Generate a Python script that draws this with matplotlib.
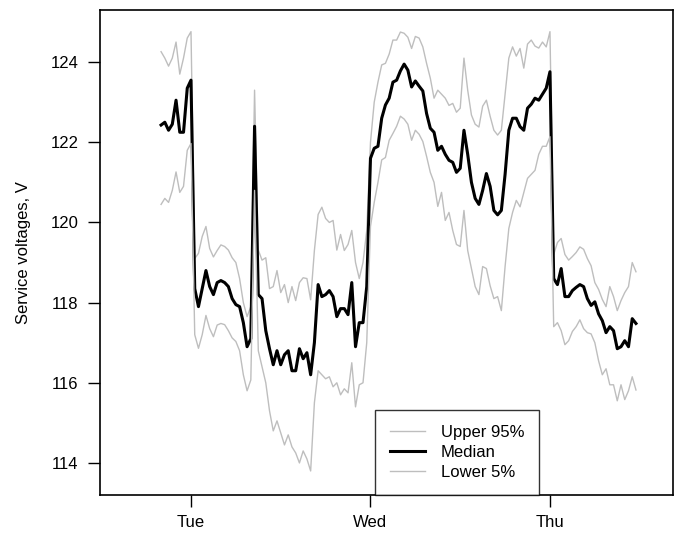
import numpy as np
import matplotlib
matplotlib.use("Agg")
import matplotlib.pyplot as plt

plt.rcParams['font.family'] = ['Liberation Sans', 'DejaVu Sans']

# time axis: hours relative to Tuesday 00:00, half-hour samples
t_start = -4.0
t_step = 0.5

median = [
    122.43, 122.5, 122.3, 122.45, 123.05, 122.25, 122.25, 123.35, 123.55,
    118.35, 117.9, 118.35, 118.8, 118.4, 118.2, 118.5, 118.55, 118.5, 118.4,
    118.1, 117.95, 117.9, 117.5, 116.9, 117.1, 122.4, 118.2, 118.1, 117.3,
    116.85, 116.45, 116.8, 116.45, 116.7, 116.8, 116.3, 116.3, 116.85, 116.6,
    116.75, 116.2, 117.0, 118.45, 118.15, 118.2, 118.3, 118.15, 117.65, 117.85,
    117.85, 117.7, 118.5, 116.9, 117.5, 117.5, 118.4,
    121.6, 121.85, 121.9, 122.6, 122.93, 123.1, 123.5, 123.55, 123.78, 123.95,
    123.8, 123.38, 123.53, 123.4, 123.28, 122.72, 122.35, 122.25, 121.8, 121.9,
    121.7, 121.55, 121.5, 121.25, 121.35, 122.3, 121.7, 121.0, 120.6, 120.45,
    120.8, 121.22, 120.9, 120.3, 120.19, 120.3, 121.2, 122.3, 122.6, 122.6,
    122.39, 122.3, 122.85, 122.95, 123.1, 123.05, 123.2, 123.35, 123.76,
    118.6, 118.45, 118.85, 118.15, 118.15, 118.3, 118.38, 118.45, 118.4, 118.1,
    117.93, 118.02, 117.72, 117.55, 117.25, 117.4, 117.3, 116.85, 116.9, 117.05,
    116.9, 117.6, 117.48,
]

upper95 = [
    124.26, 124.1, 123.9, 124.1, 124.5, 123.7, 124.1, 124.6, 124.76,
    119.1, 119.23, 119.65, 119.9, 119.35, 119.14, 119.3, 119.44, 119.4, 119.31,
    119.12, 119.0, 118.6, 118.0, 117.65, 117.9, 123.3, 119.31, 119.06, 119.12,
    118.35, 118.4, 118.8, 118.25, 118.45, 118.0, 118.4, 118.05, 118.5, 118.62,
    118.6, 118.07, 119.3, 120.2, 120.38, 120.1, 120.0, 120.05, 119.31, 119.7,
    119.3, 119.45, 119.8, 119.0, 118.6, 119.0, 119.8,
    122.0, 123.0, 123.5, 123.93, 123.97, 124.2, 124.55, 124.55, 124.75, 124.72,
    124.62, 124.34, 124.64, 124.6, 124.38, 123.97, 123.6, 123.1, 123.3, 123.2,
    123.1, 122.92, 122.97, 122.75, 122.85, 124.1, 123.3, 122.68, 122.45, 122.38,
    122.9, 123.05, 122.65, 122.3, 122.18, 122.3, 123.2, 124.1, 124.38, 124.15,
    124.34, 123.85, 124.45, 124.55, 124.4, 124.35, 124.5, 124.38, 124.76,
    119.2, 119.5, 119.6, 119.2, 119.06, 119.15, 119.25, 119.39, 119.33, 119.1,
    118.92, 118.5, 118.33, 118.08, 117.9, 118.4, 118.15, 117.8, 118.05, 118.25,
    118.4, 119.0, 118.77,
]

lower5 = [
    120.45, 120.6, 120.5, 120.8, 121.26, 120.75, 120.9, 121.8, 121.97,
    117.2, 116.86, 117.2, 117.68, 117.35, 117.15, 117.44, 117.48, 117.45, 117.3,
    117.12, 117.03, 116.8, 116.2, 115.8, 116.07, 120.8, 116.8, 116.4, 116.0,
    115.3, 114.8, 115.05, 114.75, 114.45, 114.7, 114.4, 114.25, 114.0, 114.3,
    114.1, 113.8, 115.5, 116.3, 116.2, 116.1, 116.15, 115.9, 116.0, 115.7,
    115.85, 115.75, 116.5, 115.4, 115.95, 116.0, 117.0,
    119.9, 120.5, 121.0, 121.56, 121.62, 122.05, 122.22, 122.4, 122.65, 122.58,
    122.45, 122.05, 122.3, 122.2, 122.02, 121.65, 121.25, 121.0, 120.4, 120.75,
    120.05, 120.25, 119.8, 119.45, 119.4, 120.3, 119.3, 118.85, 118.4, 118.2,
    118.9, 118.85, 118.42, 118.1, 118.15, 117.8, 118.9, 119.85, 120.25, 120.55,
    120.39, 120.75, 121.1, 121.2, 121.3, 121.7, 121.9, 121.9, 122.14,
    117.4, 117.5, 117.3, 116.95, 117.05, 117.28, 117.4, 117.57, 117.35, 117.25,
    117.22, 117.0, 116.55, 116.2, 116.35, 115.95, 115.95, 115.55, 115.95, 115.58,
    115.8, 116.15, 115.82,
]

day_ticks = [0, 24, 48]
day_labels = ["Tue", "Wed", "Thu"]
y_ticks = [114, 116, 118, 120, 122, 124]

n = len(median)
t = t_start + t_step * np.arange(n)

fig = plt.figure(figsize=(6.78, 5.38), dpi=100)
ax = fig.add_axes([0.1468, 0.0799, 0.8458, 0.9015])

ax.plot(t, upper95, color='#bebebe', lw=1.0, label='Upper 95%')
ax.plot(t, median, color='black', lw=2.2, label='Median')
ax.plot(t, lower5, color='#bebebe', lw=1.0, label='Lower 5%')

ax.set_xlim(-12.23, 64.45)
ax.set_ylim(113.2, 125.3)
ax.set_xticks(day_ticks)
ax.set_xticklabels(day_labels)
ax.set_yticks(y_ticks)
ax.tick_params(axis='both', direction='out', length=8.3, width=1.0,
               labelsize=12, color='black')
ax.tick_params(axis='x', pad=6)
ax.tick_params(axis='y', pad=7)
for s in ax.spines.values():
    s.set_linewidth(1.2)
ax.set_ylabel('Service voltages, V', fontsize=12, labelpad=14)

leg = ax.legend(loc='lower left', bbox_to_anchor=(0.4804, 0.0),
                fontsize=12, frameon=True, fancybox=False,
                handlelength=2.1, handletextpad=0.95, borderpad=0.9,
                labelspacing=0.3, borderaxespad=0)
leg.get_frame().set_edgecolor('black')
leg.get_frame().set_linewidth(1.0)

fig.savefig('out.png', dpi=100)
